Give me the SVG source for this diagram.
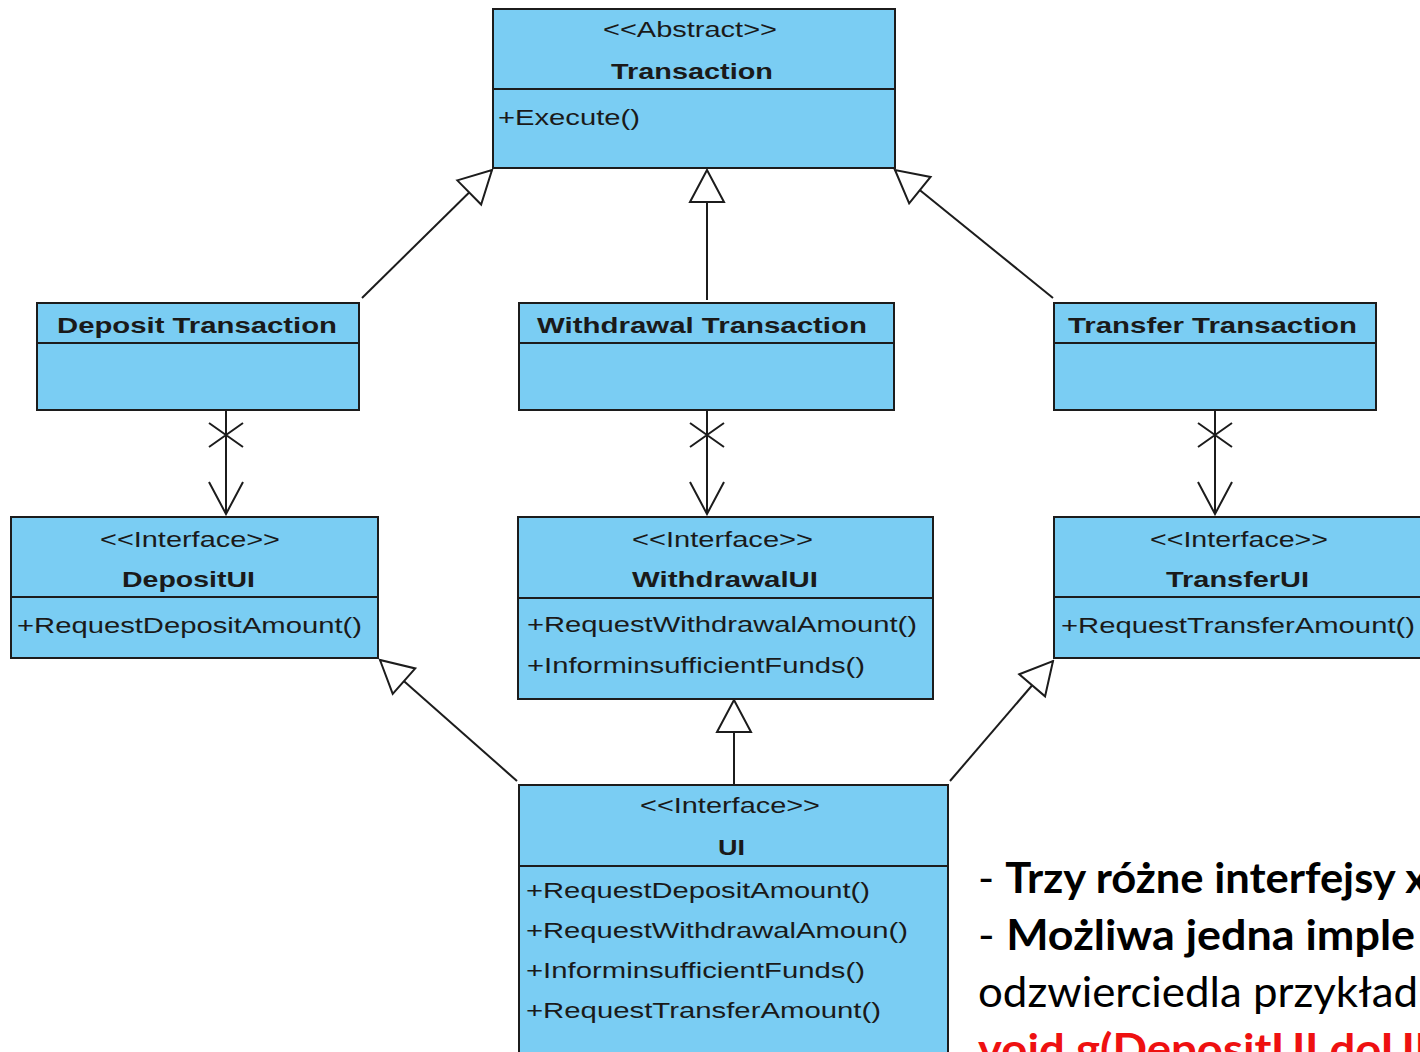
<svg xmlns="http://www.w3.org/2000/svg" width="1420" height="1052" viewBox="0 0 1420 1052">
  <style>
    .box { fill: #7acdf3; stroke: #1c1c1c; stroke-width: 2; }
    .sep { stroke: #1c1c1c; stroke-width: 2; }
    .t { font-family: "Liberation Sans", Arial, sans-serif; font-size: 22px; fill: #1a1a1a; }
    .b { font-weight: bold; }
    .edge { stroke: #1c1c1c; stroke-width: 2; fill: none; }
    .note { font-family: Lato, "Open Sans", sans-serif; font-size: 42px; fill: #000; }
    .red { fill: #ee1111; font-weight: bold; }
  </style>
  <defs>
    <!-- hollow triangle for generalization -->
    <marker id="gen" viewBox="0 0 36 38" refX="34" refY="19" markerWidth="36" markerHeight="38" markerUnits="userSpaceOnUse" orient="auto">
      <path d="M2,2 L34,19 L2,36 Z" fill="#fff" stroke="#1c1c1c" stroke-width="2"/>
    </marker>
    <!-- open arrowhead for navigable association -->
    <marker id="open" viewBox="0 0 36 38" refX="34" refY="19" markerWidth="36" markerHeight="38" markerUnits="userSpaceOnUse" orient="auto">
      <path d="M2,2 L34,19 L2,36" fill="none" stroke="#1c1c1c" stroke-width="2"/>
    </marker>
    <!-- non-navigable end cross -->
    <path id="cross" d="M-17,-12 L17,12 M-17,12 L17,-12" stroke="#1c1c1c" stroke-width="2" fill="none"/>
  </defs>

  <rect width="1420" height="1052" fill="#fff"/>

  <g id="connectors">
    <path class="edge" d="M362,298 L492,170" marker-end="url(#gen)"/>
    <path class="edge" d="M707,300 L707,170" marker-end="url(#gen)"/>
    <path class="edge" d="M1053,298 L895,170" marker-end="url(#gen)"/>

    <path class="edge" d="M226,411 L226,514" marker-end="url(#open)"/>
    <use href="#cross" x="226" y="435"/>
    <path class="edge" d="M707,411 L707,514" marker-end="url(#open)"/>
    <use href="#cross" x="707" y="435"/>
    <path class="edge" d="M1215,411 L1215,514" marker-end="url(#open)"/>
    <use href="#cross" x="1215" y="435"/>

    <path class="edge" d="M517,781 L380,660" marker-end="url(#gen)"/>
    <path class="edge" d="M734,785 L734,700" marker-end="url(#gen)"/>
    <path class="edge" d="M950,781 L1053,661" marker-end="url(#gen)"/>
  </g>

  <g id="transaction">
    <rect class="box" x="493" y="9" width="402" height="159"/>
    <line class="sep" x1="493" y1="89" x2="895" y2="89"/>
    <text class="t" x="603" y="37" textLength="174" lengthAdjust="spacingAndGlyphs">&lt;&lt;Abstract&gt;&gt;</text>
    <text class="t b" x="611" y="79" textLength="162" lengthAdjust="spacingAndGlyphs">Transaction</text>
    <text class="t" x="498" y="125" textLength="142" lengthAdjust="spacingAndGlyphs">+Execute()</text>
  </g>

  <g id="deposit-transaction">
    <rect class="box" x="37" y="303" width="322" height="107"/>
    <line class="sep" x1="37" y1="343" x2="359" y2="343"/>
    <text class="t b" x="57" y="333" textLength="280" lengthAdjust="spacingAndGlyphs">Deposit Transaction</text>
  </g>

  <g id="withdrawal-transaction">
    <rect class="box" x="519" y="303" width="375" height="107"/>
    <line class="sep" x1="519" y1="343" x2="894" y2="343"/>
    <text class="t b" x="537" y="333" textLength="330" lengthAdjust="spacingAndGlyphs">Withdrawal Transaction</text>
  </g>

  <g id="transfer-transaction">
    <rect class="box" x="1054" y="303" width="322" height="107"/>
    <line class="sep" x1="1054" y1="343" x2="1376" y2="343"/>
    <text class="t b" x="1068" y="333" textLength="289" lengthAdjust="spacingAndGlyphs">Transfer Transaction</text>
  </g>

  <g id="deposit-ui">
    <rect class="box" x="11" y="517" width="367" height="141"/>
    <line class="sep" x1="11" y1="597" x2="378" y2="597"/>
    <text class="t" x="100" y="547" textLength="180" lengthAdjust="spacingAndGlyphs">&lt;&lt;Interface&gt;&gt;</text>
    <text class="t b" x="122" y="587" textLength="133" lengthAdjust="spacingAndGlyphs">DepositUI</text>
    <text class="t" x="17" y="633" textLength="345" lengthAdjust="spacingAndGlyphs">+RequestDepositAmount()</text>
  </g>

  <g id="withdrawal-ui">
    <rect class="box" x="518" y="517" width="415" height="182"/>
    <line class="sep" x1="518" y1="598" x2="933" y2="598"/>
    <text class="t" x="632" y="547" textLength="181" lengthAdjust="spacingAndGlyphs">&lt;&lt;Interface&gt;&gt;</text>
    <text class="t b" x="632" y="587" textLength="186" lengthAdjust="spacingAndGlyphs">WithdrawalUI</text>
    <text class="t" x="527" y="632" textLength="390" lengthAdjust="spacingAndGlyphs">+RequestWithdrawalAmount()</text>
    <text class="t" x="527" y="673" textLength="338" lengthAdjust="spacingAndGlyphs">+InforminsufficientFunds()</text>
  </g>

  <g id="transfer-ui">
    <rect class="box" x="1054" y="517" width="380" height="141"/>
    <line class="sep" x1="1054" y1="597" x2="1434" y2="597"/>
    <text class="t" x="1150" y="547" textLength="178" lengthAdjust="spacingAndGlyphs">&lt;&lt;Interface&gt;&gt;</text>
    <text class="t b" x="1166" y="587" textLength="143" lengthAdjust="spacingAndGlyphs">TransferUI</text>
    <text class="t" x="1061" y="633" textLength="354" lengthAdjust="spacingAndGlyphs">+RequestTransferAmount()</text>
  </g>

  <g id="ui">
    <rect class="box" x="519" y="785" width="429" height="290"/>
    <line class="sep" x1="519" y1="866" x2="948" y2="866"/>
    <text class="t" x="640" y="813" textLength="180" lengthAdjust="spacingAndGlyphs">&lt;&lt;Interface&gt;&gt;</text>
    <text class="t b" x="718" y="855" textLength="27" lengthAdjust="spacingAndGlyphs">UI</text>
    <text class="t" x="526" y="898" textLength="344" lengthAdjust="spacingAndGlyphs">+RequestDepositAmount()</text>
    <text class="t" x="526" y="938" textLength="382" lengthAdjust="spacingAndGlyphs">+RequestWithdrawalAmoun()</text>
    <text class="t" x="526" y="978" textLength="339" lengthAdjust="spacingAndGlyphs">+InforminsufficientFunds()</text>
    <text class="t" x="526" y="1018" textLength="355" lengthAdjust="spacingAndGlyphs">+RequestTransferAmount()</text>
  </g>

  <g id="notes">
    <text class="note" x="978" y="893" textLength="450" lengthAdjust="spacingAndGlyphs">- <tspan font-weight="bold">Trzy różne interfejsy x</tspan></text>
    <text class="note" x="978" y="950" textLength="437" lengthAdjust="spacingAndGlyphs">- <tspan font-weight="bold">Możliwa jedna imple</tspan></text>
    <text class="note" x="978" y="1007" textLength="440" lengthAdjust="spacingAndGlyphs">odzwierciedla przykład</text>
    <text class="note red" x="978" y="1064" textLength="450" lengthAdjust="spacingAndGlyphs">void g(DepositUI doUI</text>
  </g>
</svg>
